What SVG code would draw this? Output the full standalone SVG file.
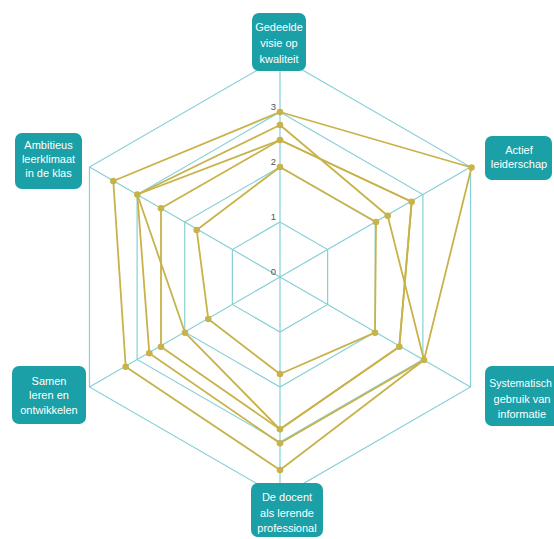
<svg xmlns="http://www.w3.org/2000/svg" width="554" height="539" viewBox="0 0 554 539">
<style>
.grid{fill:none;stroke:#86d0d5;stroke-width:1.2}
.ser{fill:none;stroke:#c8b24a;stroke-width:1.8;stroke-linejoin:round}
.dot{fill:#c8b24a}
.box{fill:#1ba0a7}
.lbl{font-family:"Liberation Sans",Arial,sans-serif;font-size:11px;fill:#ffffff;text-anchor:middle}
.tick{font-family:"Liberation Sans",Arial,sans-serif;font-size:9.5px;fill:#555555;text-anchor:middle}
</style>
<rect width="554" height="539" fill="#ffffff"/>
<g id="connectors">
<g id="grid">
<polygon class="grid" points="280,222 327.63,249.5 327.63,304.5 280,332 232.37,304.5 232.37,249.5"/>
<polygon class="grid" points="280,167 375.26,222 375.26,332 280,387 184.74,332 184.74,222"/>
<polygon class="grid" points="280,112 422.89,194.5 422.89,359.5 280,442 137.11,359.5 137.11,194.5"/>
<polygon class="grid" points="280,57 470.53,167 470.53,387 280,497 89.47,387 89.47,167"/>
<path class="grid" d="M280,277L280,57M280,277L470.53,167M280,277L470.53,387M280,277L280,497M280,277L89.47,387M280,277L89.47,167"/>
</g>
<g id="series">
<polygon class="ser" points="280,112 471.5,167.5 424,360 280,470 125.7,366.7 113.3,181"/>
<polygon class="ser" points="280,125 387.7,215.7 424,360 280,443.3 149.3,353.3 137.3,194.5"/>
<polygon class="ser" points="280,140 411.7,201.7 399.3,346.7 280,429.3 161,346.7 161,208.3"/>
<polygon class="ser" points="280,140 411.7,201.7 399.3,346.7 280,429.3 185,332.7 137.3,194.5"/>
<polygon class="ser" points="280,167 376,222 375,332.7 280,374 208.3,319 196.7,230"/>
</g>
</g>
<g id="dots">
<circle class="dot" cx="280" cy="112" r="3.3"/><circle class="dot" cx="280" cy="125" r="3.3"/><circle class="dot" cx="280" cy="140" r="3.3"/><circle class="dot" cx="280" cy="167" r="3.3"/>
<circle class="dot" cx="471.5" cy="167.5" r="3.3"/><circle class="dot" cx="387.7" cy="215.7" r="3.3"/><circle class="dot" cx="411.7" cy="201.7" r="3.3"/><circle class="dot" cx="376" cy="222" r="3.3"/>
<circle class="dot" cx="424" cy="360" r="3.3"/><circle class="dot" cx="399.3" cy="346.7" r="3.3"/><circle class="dot" cx="375" cy="332.7" r="3.3"/>
<circle class="dot" cx="280" cy="470" r="3.3"/><circle class="dot" cx="280" cy="443.3" r="3.3"/><circle class="dot" cx="280" cy="429.3" r="3.3"/><circle class="dot" cx="280" cy="374" r="3.3"/>
<circle class="dot" cx="125.7" cy="366.7" r="3.3"/><circle class="dot" cx="149.3" cy="353.3" r="3.3"/><circle class="dot" cx="161" cy="346.7" r="3.3"/><circle class="dot" cx="185" cy="332.7" r="3.3"/><circle class="dot" cx="208.3" cy="319" r="3.3"/>
<circle class="dot" cx="113.3" cy="181" r="3.3"/><circle class="dot" cx="137.3" cy="194.5" r="3.3"/><circle class="dot" cx="161" cy="208.3" r="3.3"/><circle class="dot" cx="196.7" cy="230" r="3.3"/>
</g>
<g id="ticks">
<text class="tick" x="273.5" y="275">0</text>
<text class="tick" x="273.5" y="220">1</text>
<text class="tick" x="273.5" y="165">2</text>
<text class="tick" x="273.5" y="110">3</text>
</g>
<g id="node-gedeelde">
<rect class="box" x="252" y="13" width="54" height="58" rx="7"/>
<text class="lbl" x="279" y="31">Gedeelde</text>
<text class="lbl" x="279" y="47">visie op</text>
<text class="lbl" x="279" y="63">kwaliteit</text>
</g>
<g id="node-actief">
<rect class="box" x="485" y="136" width="67" height="44" rx="7"/>
<text class="lbl" x="519" y="154">Actief</text>
<text class="lbl" x="519" y="168">leiderschap</text>
</g>
<g id="node-systematisch">
<rect class="box" x="485" y="366" width="80" height="60" rx="7"/>
<text class="lbl" x="520.5" y="387" style="font-size:10.5px">Systematisch</text>
<text class="lbl" x="522" y="403">gebruik van</text>
<text class="lbl" x="522" y="418">informatie</text>
</g>
<g id="node-docent">
<rect class="box" x="251" y="483" width="72" height="54" rx="7"/>
<text class="lbl" x="287" y="500.5">De docent</text>
<text class="lbl" x="287" y="517">als lerende</text>
<text class="lbl" x="287" y="532">professional</text>
</g>
<g id="node-samen">
<rect class="box" x="12" y="366" width="74" height="58" rx="7"/>
<text class="lbl" x="49" y="384.5">Samen</text>
<text class="lbl" x="49" y="399">leren en</text>
<text class="lbl" x="49" y="414">ontwikkelen</text>
</g>
<g id="node-ambitieus">
<rect class="box" x="15" y="133" width="67" height="56" rx="7"/>
<text class="lbl" x="48.5" y="149">Ambitieus</text>
<text class="lbl" x="48.5" y="163">leerklimaat</text>
<text class="lbl" x="48.5" y="177">in de klas</text>
</g>
</svg>
